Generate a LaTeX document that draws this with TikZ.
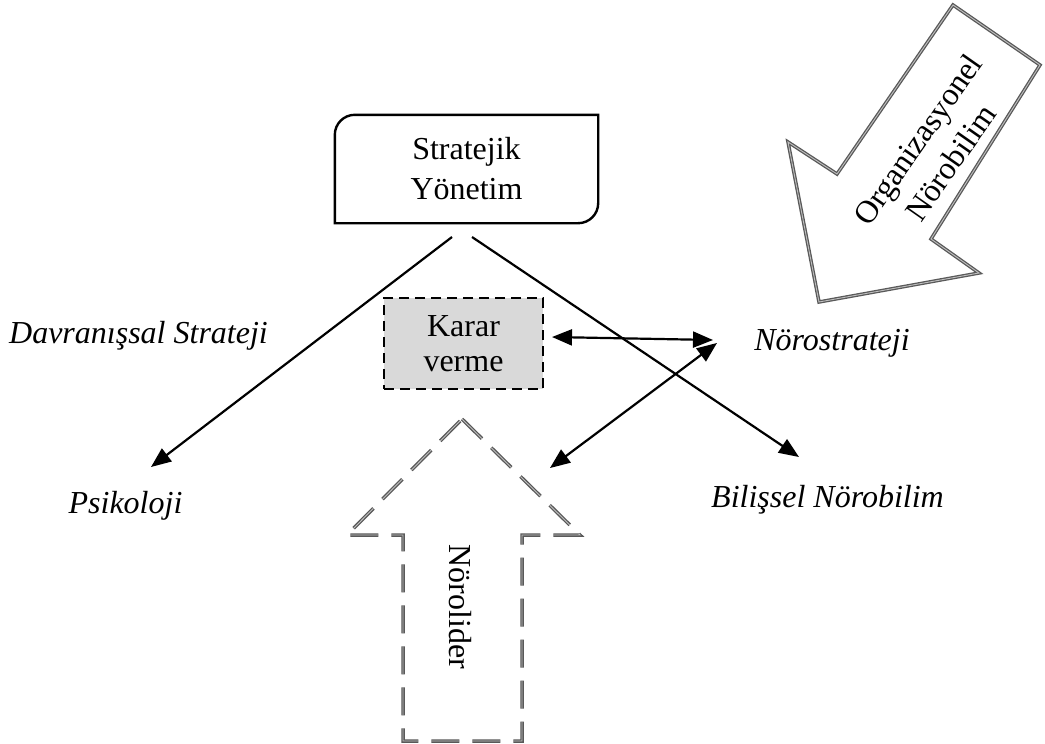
\documentclass[tikz,border=0pt]{standalone}
\usepackage{fontspec}
\setmainfont{Liberation Serif}
\usetikzlibrary{arrows.meta,calc}
\begin{document}
\begin{tikzpicture}[x=1pt,y=-1pt,
  lbl/.style={font=\fontsize{32}{40}\selectfont\itshape, anchor=base, inner sep=0pt},
  boxtext/.style={font=\fontsize{32}{40}\selectfont, align=center, inner sep=0pt},
  conn/.style={line width=2.2pt, draw=black},
  arrowone/.style={-{Triangle[length=20pt,width=16pt]}},
  arrowtwo/.style={{Triangle[length=20pt,width=16pt]}-{Triangle[length=20pt,width=16pt]}},
  bigarrow/.style={draw=black!65, double=black!25, double distance=0.9pt, line width=1.3pt, fill=white},
  dasharrow/.style={bigarrow, dash pattern=on 28pt off 13pt},
  kbox/.style={draw=black, fill=black!15, line width=2.4pt, dash pattern=on 10pt off 6pt,
    minimum width=159pt, minimum height=91pt, font=\fontsize{32}{35}\selectfont, align=center, inner sep=0pt}
]
\useasboundingbox (0,0) rectangle (1045,744);

% Organizasyonel Nörobilim big arrow
\draw[bigarrow] (953,5) -- (1040,65) -- (931,239) -- (979,273) -- (819,302) -- (788,142) -- (837,174) -- cycle;
\node[boxtext, rotate=55] (org) at (934,151) {Organizasyonel\\Nörobilim};

% Nörolider dashed arrow
\draw[dasharrow] (462,419) -- (580,535) -- (522,535) -- (522,741) -- (403,741) -- (403,535) -- (347,535) -- cycle;
\node[boxtext, rotate=-90] (nl) at (460,607) {Nörolider};

% Stratejik Yönetim
\node[boxtext, minimum width=263pt, minimum height=108pt] (sy) at (466.5,169) {Stratejik\\Yönetim};
\draw[line width=2.4pt] (sy.south west) -- ($(sy.north west)+(0,20)$)
  .. controls ($(sy.north west)+(0,9)$) and ($(sy.north west)+(9,0)$) .. ($(sy.north west)+(20,0)$) -- (sy.north east)
  -- ($(sy.south east)+(0,-20)$) .. controls ($(sy.south east)+(0,-9)$) and ($(sy.south east)+(-9,0)$) .. ($(sy.south east)+(-20,0)$) -- cycle;

% Karar verme
\node[kbox] (kv) at (463.5,343.5) {Karar\\verme};

% labels
\node[lbl] (dav) at (138.5,343) {Davranışsal Strateji};
\node[lbl] (psi) at (125.5,513) {Psikoloji};
\node[lbl] (nst) at (832,350) {Nörostrateji};
\node[lbl] (bil) at (827.5,507) {Bilişsel Nörobilim};

% connectors
\coordinate (sL) at (452,237);
\coordinate (pT) at (151,467);
\coordinate (sR) at (472,237);
\coordinate (bT) at (799,457);
\coordinate (k1) at (552,337);
\coordinate (n1) at (713,340);
\coordinate (n2) at (717,343);
\coordinate (d1) at (550,468);
\draw[conn,arrowone] (sL) -- (pT);
\draw[conn,arrowone] (sR) -- (bT);
\draw[conn,arrowtwo] (k1) -- (n1);
\draw[conn,arrowtwo] (d1) -- (n2);
\end{tikzpicture}
\end{document}
